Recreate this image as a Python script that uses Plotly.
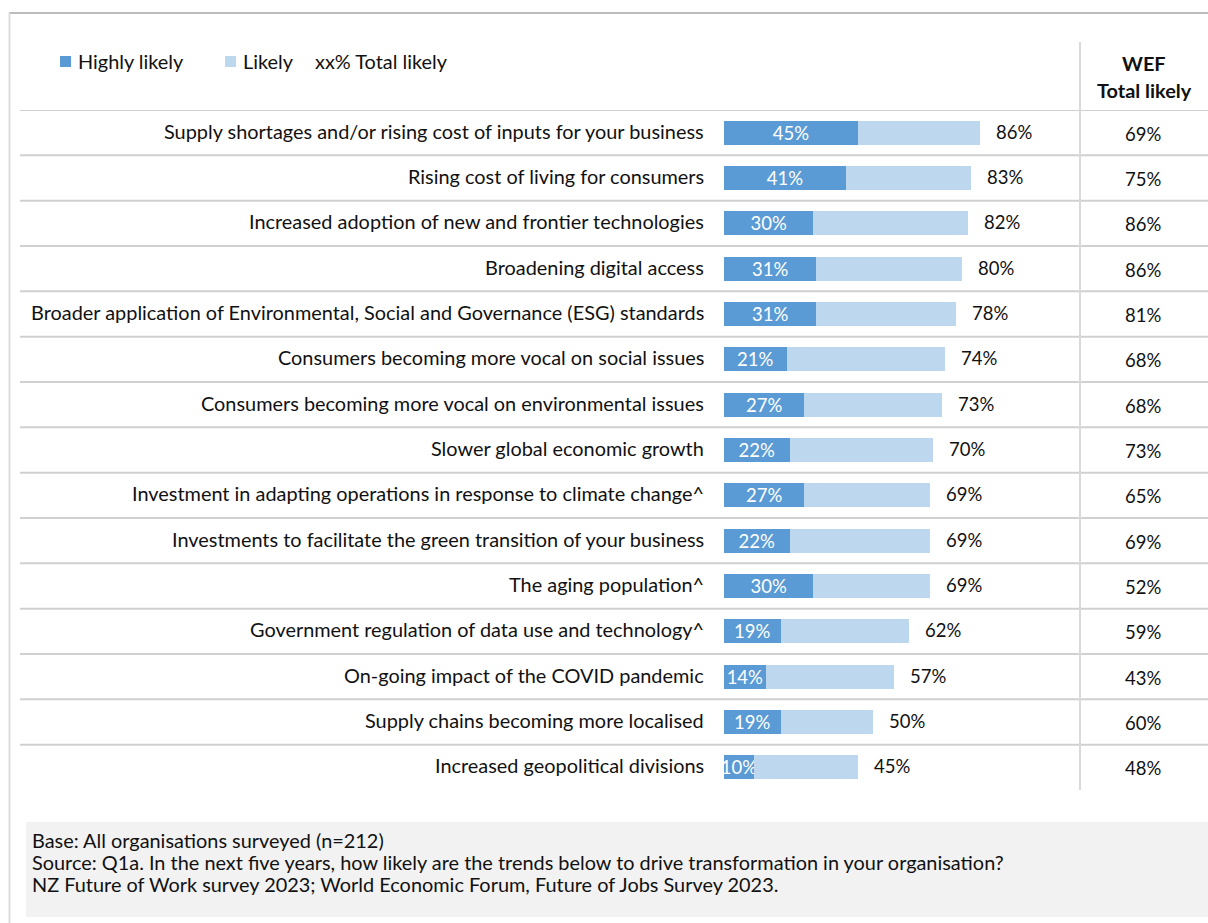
import plotly.graph_objects as go

W, H = 1208, 923

categories = [
    "Supply shortages and/or rising cost of inputs for your business",
    "Rising cost of living for consumers",
    "Increased adoption of new and frontier technologies",
    "Broadening digital access",
    "Broader application of Environmental, Social and Governance (ESG) standards",
    "Consumers becoming more vocal on social issues",
    "Consumers becoming more vocal on environmental issues",
    "Slower global economic growth",
    "Investment in adapting operations in response to climate change^",
    "Investments to facilitate the green transition of your business",
    "The aging population^",
    "Government regulation of data use and technology^",
    "On-going impact of the COVID pandemic",
    "Supply chains becoming more localised",
    "Increased geopolitical divisions",
]
highly_likely = [45, 41, 30, 31, 31, 21, 27, 22, 27, 22, 30, 19, 14, 19, 10]
total_likely = [86, 83, 82, 80, 78, 74, 73, 70, 69, 69, 69, 62, 57, 50, 45]
wef_total_likely = [69, 75, 86, 86, 81, 68, 68, 73, 65, 69, 52, 59, 43, 60, 48]
likely = [t - h for t, h in zip(total_likely, highly_likely)]

footer_lines = [
    "Base: All organisations surveyed (n=212)",
    "Source: Q1a. In the next five years, how likely are the trends below to drive transformation in your organisation?",
    "NZ Future of Work survey 2023; World Economic Forum, Future of Jobs Survey 2023.",
]

DARK = "#5B9BD5"
LIGHT = "#BDD7EE"
FONT = "Lato"
FS_TEXT = 19.9
FS_NUM = 18.5
TXT = "#111111"


def px(x):
    return x / W


def py(y):
    return 1 - y / H


fig = go.Figure()
fig.add_trace(go.Bar(
    y=categories, x=highly_likely, orientation="h", name="Highly likely",
    marker=dict(color=DARK, line=dict(width=0)), width=0.53,
    text=[f"{v}%" for v in highly_likely], textposition="inside",
    insidetextanchor="middle", constraintext="none", textangle=0,
    textfont=dict(family=FONT, size=FS_NUM, color="white"),
    hoverinfo="skip",
))
fig.add_trace(go.Bar(
    y=categories, x=likely, orientation="h", name="Likely",
    marker=dict(color=LIGHT, line=dict(width=0)), width=0.53,
    hoverinfo="skip",
))

annotations = []
shapes = []

# category labels, right aligned against the bars
for c in categories:
    annotations.append(dict(
        x=px(706), xref="paper", y=c, yref="y", text=c, showarrow=False,
        xanchor="right", yanchor="middle", yshift=2,
        font=dict(family=FONT, size=FS_TEXT, color=TXT),
    ))

# total likely labels after each bar
for c, t in zip(categories, total_likely):
    annotations.append(dict(
        x=t, xref="x", y=c, yref="y", text=f"{t}%", showarrow=False,
        xanchor="left", yanchor="middle", xshift=14, yshift=1,
        font=dict(family=FONT, size=FS_NUM, color=TXT),
    ))

# WEF column
for c, v in zip(categories, wef_total_likely):
    annotations.append(dict(
        x=px(1143), xref="paper", y=c, yref="y", text=f"{v}%", showarrow=False,
        xanchor="center", yanchor="middle", yshift=-1,
        font=dict(family=FONT, size=FS_NUM, color=TXT),
    ))
for y, t in [(63, "<b>WEF</b>"), (90, "<b>Total likely</b>")]:
    annotations.append(dict(
        x=px(1144), xref="paper", y=py(y), yref="paper", text=t,
        showarrow=False, xanchor="center", yanchor="middle",
        font=dict(family=FONT, size=FS_TEXT, color=TXT),
    ))

# legend
shapes.append(dict(type="rect", xref="paper", yref="paper",
                   x0=px(60), x1=px(71), y0=py(56), y1=py(67),
                   fillcolor=DARK, line=dict(width=0)))
shapes.append(dict(type="rect", xref="paper", yref="paper",
                   x0=px(225), x1=px(236), y0=py(56), y1=py(67),
                   fillcolor=LIGHT, line=dict(width=0)))
for x, t in [(76, "Highly likely"), (241, "Likely"), (313, "xx% Total likely")]:
    annotations.append(dict(
        x=px(x), xref="paper", y=py(61), yref="paper", text=t, showarrow=False,
        xanchor="left", yanchor="middle",
        font=dict(family=FONT, size=FS_TEXT, color=TXT),
    ))

# row separators
for k in range(len(categories)):
    shapes.append(dict(type="line", xref="paper", yref="y",
                       x0=px(20), x1=1, y0=k - 0.5, y1=k - 0.5,
                       line=dict(color="#D0D0D0", width=2)))

# vertical divider before the WEF column
shapes.append(dict(type="line", xref="paper", yref="paper",
                   x0=px(1080), x1=px(1080), y0=py(42), y1=py(790),
                   line=dict(color="#D9D9D9", width=2)))

# outer frame
shapes.append(dict(type="line", xref="paper", yref="paper",
                   x0=px(9), x1=1, y0=py(13), y1=py(13),
                   line=dict(color="#A6A6A6", width=1.5)))
shapes.append(dict(type="line", xref="paper", yref="paper",
                   x0=px(9.5), x1=px(9.5), y0=py(13), y1=0,
                   line=dict(color="#DDDDDD", width=2)))

# footer box
shapes.append(dict(type="rect", xref="paper", yref="paper",
                   x0=px(26), x1=1, y0=py(822), y1=py(917),
                   fillcolor="#F2F2F2", line=dict(width=0), layer="below"))
for i, t in enumerate(footer_lines):
    annotations.append(dict(
        x=px(30), xref="paper", y=py(840 + 22 * i), yref="paper", text=t,
        showarrow=False, xanchor="left", yanchor="middle",
        font=dict(family=FONT, size=FS_TEXT, color=TXT),
    ))

fig.update_layout(
    width=W, height=H, margin=dict(l=0, r=0, t=0, b=0),
    paper_bgcolor="white", plot_bgcolor="rgba(0,0,0,0)",
    barmode="stack", showlegend=False,
    xaxis=dict(domain=[px(724), px(1022)], range=[0, 100], visible=False,
               fixedrange=True),
    yaxis=dict(domain=[py(790), py(110)], range=[14.5, -0.5], visible=False,
               type="category", fixedrange=True),
    annotations=annotations, shapes=shapes,
    font=dict(family=FONT),
)

fig.write_html("out.html", config={"displayModeBar": False})
